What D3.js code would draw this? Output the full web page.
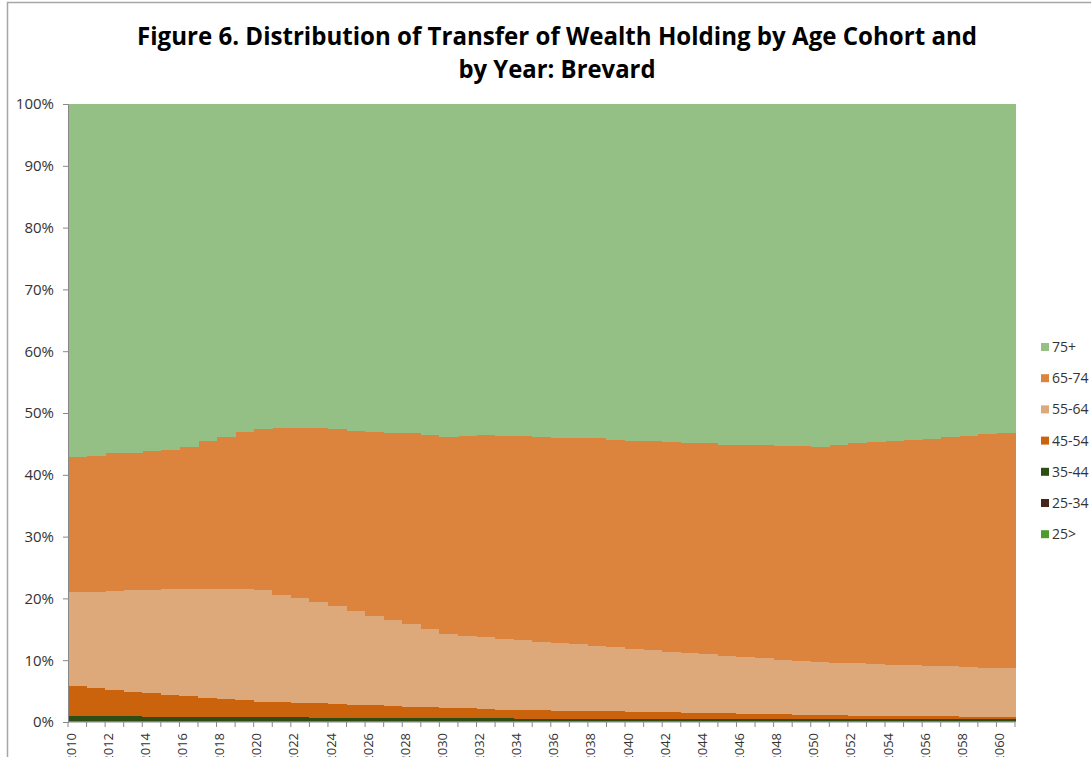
<!DOCTYPE html>
<html>
<head>
<meta charset="utf-8">
<script src="https://cdn.jsdelivr.net/npm/d3@7"></script>
<style>
  body { margin: 0; background: #fff; }
  svg { display: block; }
  .axis text { font-family: "Open Sans", "Liberation Sans", sans-serif; font-size: 15px; fill: #333; }
  .axis .lbl { font-size: 13px; }
  .legend text { font-family: "Open Sans", "Liberation Sans", sans-serif; font-size: 14px; fill: #333; }
</style>
</head>
<body>
<div id="chart"></div>
<script>
// years on the x axis
var years = [2010,2011,2012,2013,2014,2015,2016,2017,2018,2019,
  2020,2021,2022,2023,2024,2025,2026,2027,2028,2029,
  2030,2031,2032,2033,2034,2035,2036,2037,2038,2039,
  2040,2041,2042,2043,2044,2045,2046,2047,2048,2049,
  2050,2051,2052,2053,2054,2055,2056,2057,2058,2059,2060];

// share of wealth holding (%) per cohort
var under25 = [0.1,0.1,0.1,0.1,0.1,0.1,0.1,0.1,0.1,0.1,
  0.1,0.1,0.1,0.1,0.1,0.1,0.1,0.1,0.1,0.1,
  0.1,0.1,0.1,0.1,0.1,0.1,0.1,0.1,0.1,0.1,
  0.1,0.1,0.1,0.1,0.1,0.1,0.1,0.1,0.1,0.1,
  0.1,0.1,0.1,0.1,0.1,0.1,0.1,0.1,0.1,0.1,0.1];
var age25_34 = [0.05,0.05,0.05,0.05,0.05,0.05,0.05,0.05,0.05,0.05,
  0.05,0.05,0.05,0.05,0.05,0.05,0.05,0.05,0.05,0.05,
  0.05,0.05,0.05,0.05,0.05,0.05,0.05,0.05,0.05,0.05,
  0.05,0.05,0.05,0.05,0.05,0.05,0.05,0.05,0.05,0.05,
  0.05,0.05,0.05,0.05,0.05,0.05,0.05,0.05,0.05,0.05,0.05];
var age35_44 = [0.8,0.8,0.75,0.75,0.7,0.7,0.7,0.65,0.65,0.65,
  0.6,0.6,0.6,0.55,0.55,0.55,0.5,0.5,0.5,0.5,
  0.45,0.45,0.45,0.45,0.4,0.4,0.4,0.4,0.4,0.35,
  0.35,0.35,0.35,0.35,0.35,0.35,0.35,0.35,0.35,0.35,
  0.3,0.3,0.3,0.3,0.3,0.3,0.3,0.3,0.3,0.3,0.3];
var age45_54 = [4.85,4.55,4.3,4.0,3.85,3.55,3.35,3.1,2.9,2.7,
  2.55,2.45,2.35,2.3,2.2,2.1,2.05,1.95,1.85,1.75,
  1.7,1.6,1.5,1.4,1.4,1.35,1.3,1.25,1.2,1.2,
  1.15,1.1,1.05,1.0,0.95,0.9,0.85,0.8,0.75,0.7,
  0.7,0.65,0.6,0.55,0.55,0.5,0.45,0.45,0.4,0.4,0.35];
var age55_64 = [15.2,15.6,16.0,16.4,16.7,17.1,17.3,17.6,17.8,18.0,
  18.0,17.4,16.9,16.4,15.9,15.2,14.5,13.9,13.3,12.6,
  11.9,11.7,11.6,11.5,11.35,11.1,10.95,10.8,10.55,10.4,
  10.15,10.0,9.85,9.7,9.55,9.3,9.15,9.0,8.85,8.7,
  8.55,8.5,8.45,8.4,8.3,8.25,8.2,8.1,8.05,7.95,7.9];
var age65_74 = [21.8,21.9,22.3,22.3,22.4,22.5,23.0,23.9,24.6,25.4,
  26.1,26.9,27.5,28.1,28.6,29.1,29.8,30.3,30.9,31.4,
  31.9,32.4,32.7,32.8,32.9,33.1,33.2,33.4,33.6,33.6,
  33.7,33.8,33.9,34.0,34.1,34.2,34.3,34.5,34.6,34.7,
  34.8,35.3,35.6,35.9,36.2,36.4,36.7,37.1,37.4,37.8,38.1];
var age75plus = [57.2,57.0,56.5,56.4,56.2,56.0,55.5,54.6,53.9,53.1,
  52.6,52.5,52.5,52.5,52.6,52.9,53.0,53.2,53.3,53.6,
  53.9,53.7,53.6,53.7,53.8,53.9,54.0,54.0,54.1,54.3,
  54.5,54.6,54.7,54.8,54.9,55.1,55.2,55.2,55.3,55.4,
  55.5,55.1,54.9,54.7,54.5,54.4,54.2,53.9,53.7,53.4,53.2];

// stack order bottom -> top, legend shows it top -> bottom
var cohorts = ["25>","25-34","35-44","45-54","55-64","65-74","75+"];
var cohortValues = [under25, age25_34, age35_44, age45_54, age55_64, age65_74, age75plus];
var cohortColors = ["#4e9a2a","#47251a","#2e4d14","#cb620c","#dda97b","#dc843e","#95c085"];
var yTicks = [0,0.1,0.2,0.3,0.4,0.5,0.6,0.7,0.8,0.9,1];

var titleLines = ["Figure 6. Distribution of Transfer of Wealth Holding by Age Cohort and",
  "by Year: Brevard"];

// table for d3.stack
var table = years.map(function(yr, i) {
  var row = {year: yr};
  cohorts.forEach(function(c, j) { row[c] = cohortValues[j][i]; });
  return row;
});

var W = 1091, H = 757;
var margin = {top: 104, right: 76, bottom: 35, left: 68};
var width = W - margin.left - margin.right,
    height = H - margin.top - margin.bottom;

var svg = d3.select("#chart").append("svg")
  .attr("width", W)
  .attr("height", H);

// outer chart border (only top + left visible)
svg.append("rect")
  .attr("x", 7.5).attr("y", 2.5)
  .attr("width", W + 20).attr("height", H + 20)
  .attr("fill", "none")
  .attr("stroke", "#a6a6a6")
  .attr("stroke-width", 1.5);

// title
var title = svg.append("g")
  .attr("font-family", "'Liberation Sans Narrow', 'Open Sans', sans-serif")
  .attr("font-weight", "bold")
  .attr("font-size", "25px")
  .attr("fill", "#000");
title.append("text")
  .attr("x", 557).attr("y", 45)
  .attr("text-anchor", "middle")
  .attr("textLength", 840)
  .attr("lengthAdjust", "spacingAndGlyphs")
  .text(titleLines[0]);
title.append("text")
  .attr("x", 557).attr("y", 78)
  .attr("text-anchor", "middle")
  .attr("textLength", 197)
  .attr("lengthAdjust", "spacingAndGlyphs")
  .text(titleLines[1]);

var g = svg.append("g")
  .attr("transform", "translate(" + margin.left + "," + margin.top + ")");

var x = d3.scaleBand().domain(years).range([0, width]).padding(0);
var y = d3.scaleLinear().domain([0, 1]).range([height, 0]);

var stack = d3.stack().keys(cohorts).offset(d3.stackOffsetExpand);
var series = stack(table);

// one column per year, no gap, so the layers look like stepped areas
g.selectAll(".layer")
  .data(series)
  .enter().append("g")
  .attr("class", "layer")
  .attr("fill", function(d, i) { return cohortColors[i]; })
  .selectAll("rect")
  .data(function(d) { return d; })
  .enter().append("rect")
  .attr("x", function(d) { return x(d.data.year); })
  .attr("width", x.bandwidth() + 0.6)
  .attr("y", function(d) { return y(d[1]); })
  .attr("height", function(d) { return y(d[0]) - y(d[1]); })
  .attr("shape-rendering", "crispEdges");

// y axis
var yAxis = g.append("g")
  .attr("class", "axis")
  .call(d3.axisLeft(y).tickValues(yTicks).tickFormat(d3.format(".0%")).tickSize(5).tickPadding(9));
yAxis.select(".domain").attr("stroke", "#888");
yAxis.selectAll(".tick line").attr("stroke", "#888");

// x axis: ticks on every column boundary, labels every 2nd year
var xAxisG = g.append("g")
  .attr("class", "axis")
  .attr("transform", "translate(0," + height + ")");
xAxisG.append("line")
  .attr("x1", 0).attr("x2", width)
  .attr("stroke", "#888");
xAxisG.selectAll(".tk")
  .data(years.concat([null]))
  .enter().append("line")
  .attr("class", "tk")
  .attr("x1", function(d, i) { return i < years.length ? x(d) : width; })
  .attr("x2", function(d, i) { return i < years.length ? x(d) : width; })
  .attr("y1", 0).attr("y2", 5)
  .attr("stroke", "#888");
// the page is cut at the bottom, so the leading "2" falls off like in the original
xAxisG.selectAll(".lbl")
  .data(years.filter(function(d, i) { return i % 2 == 0; }))
  .enter().append("text")
  .attr("class", "lbl")
  .attr("transform", function(d) { return "translate(" + (x(d) + 3) + ",11) rotate(-90)"; })
  .attr("text-anchor", "end")
  .attr("dy", "0.35em")
  .text(function(d) { return d; });

// legend, top entry is the top layer
var legendItems = cohorts.slice().reverse();
var legendColors = cohortColors.slice().reverse();
var legend = svg.append("g")
  .attr("class", "legend")
  .attr("transform", "translate(1041,347)");
var li = legend.selectAll("g")
  .data(legendItems)
  .enter().append("g")
  .attr("transform", function(d, i) { return "translate(0," + (i * 31.2) + ")"; });
li.append("rect")
  .attr("x", 0).attr("y", -4)
  .attr("width", 8).attr("height", 8)
  .attr("fill", function(d, i) { return legendColors[i]; });
li.append("text")
  .attr("x", 11).attr("y", 0)
  .attr("dy", "0.35em")
  .text(function(d) { return d; });
</script>
</body>
</html>
